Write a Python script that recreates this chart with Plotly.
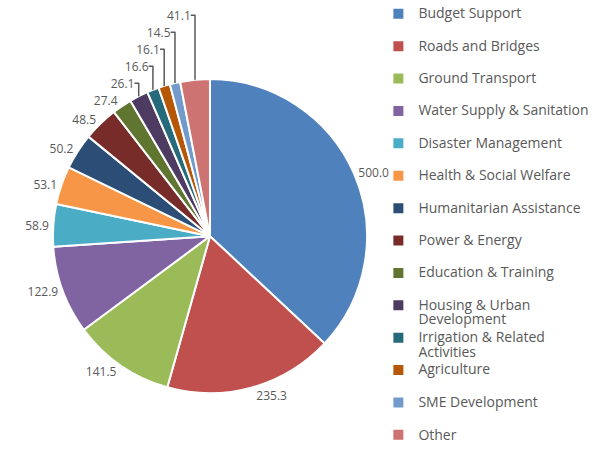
import plotly.graph_objects as go

SECTORS = [
    "Budget Support",
    "Roads and Bridges",
    "Ground Transport",
    "Water Supply & Sanitation",
    "Disaster Management",
    "Health & Social Welfare",
    "Humanitarian Assistance",
    "Power & Energy",
    "Education & Training",
    "Housing & Urban Development",
    "Irrigation & Related Activities",
    "Agriculture",
    "SME Development",
    "Other",
]
AMOUNTS = [500.0, 235.3, 141.5, 122.9, 58.9, 53.1, 50.2, 48.5, 27.4, 26.1, 16.6, 16.1, 14.5, 41.1]
COLORS = [
    "#4F81BD", "#C0504D", "#9BBB59", "#8064A2", "#4BACC6", "#F79646", "#2C4D75",
    "#772C2A", "#5F7530", "#4D3B62", "#276A7C", "#B65708", "#729ACA", "#CD7371",
]

# legend text wraps like the original; entries take two (small) lines so the
# spacing stays even, the visible text is drawn larger through a span
WRAP = {
    "Housing & Urban Development": "Housing & Urban<br>Development",
    "Irrigation & Related Activities": "Irrigation & Related<br>Activities",
}


def legend_label(name, last=False):
    lines = WRAP.get(name, name if last else name + "<br> ").split("<br>")
    return "<br>".join(f"<span style='font-size:14px'>{ln}</span>" for ln in lines)


labels = [legend_label(s, i == len(SECTORS) - 1) for i, s in enumerate(SECTORS)]

fig = go.Figure()
fig.add_trace(
    go.Pie(
        labels=labels,
        values=AMOUNTS,
        text=[f"{v:.1f}" for v in AMOUNTS],
        textinfo="text",
        sort=False,
        direction="clockwise",
        rotation=0,
        marker=dict(colors=COLORS, line=dict(color="white", width=2)),
        textposition="outside",
        outsidetextfont=dict(color="#595959", size=12),
        domain=dict(x=[0.089, 0.618], y=[0.13, 0.825]),
        hovertext=SECTORS,
        hoverinfo="text+value+percent",
    )
)
fig.update_layout(
    width=594,
    height=452,
    margin=dict(l=0, r=0, t=0, b=0, autoexpand=False),
    paper_bgcolor="white",
    font=dict(family="Open Sans", color="#595959", size=14),
    legend=dict(
        x=0.637,
        xanchor="left",
        y=1.0,
        yanchor="top",
        valign="top",
        itemwidth=30,
        bgcolor="rgba(0,0,0,0)",
        font=dict(size=11.3, color="#595959"),
    ),
)
fig.write_html(
    "out.html",
    config={"displayModeBar": False},
    post_script="document.body.style.margin='0';",
)
